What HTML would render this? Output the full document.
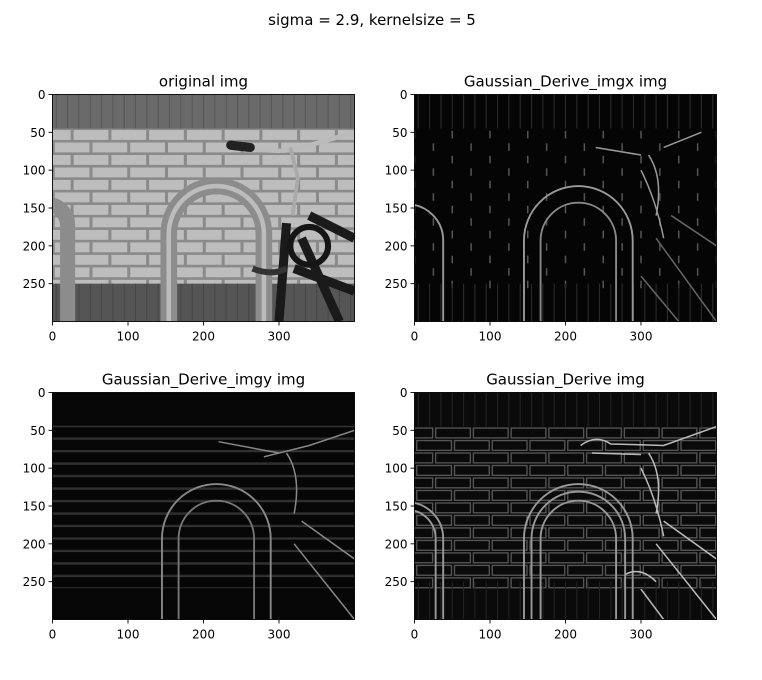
<!DOCTYPE html>
<html><head><meta charset="utf-8">
<style>
html,body{margin:0;padding:0;background:#fff;}
body{width:762px;height:675px;overflow:hidden;font-family:"Liberation Sans","DejaVu Sans",sans-serif;}
svg text{font-family:"DejaVu Sans","Liberation Sans",sans-serif;}
</style></head>
<body>
<svg id="fig" width="762" height="675" viewBox="0 0 762 675" xmlns="http://www.w3.org/2000/svg">
<text x="372" y="25" font-size="15" text-anchor="middle">sigma = 2.9, kernelsize = 5</text>
</svg>
<script>
const xTicks=[0,100,200,300];
const yTicks=[0,50,100,150,200,250];
const titles=["original img","Gaussian_Derive_imgx img","Gaussian_Derive_imgy img","Gaussian_Derive img"];
const panelNames=["original-img","derive-x-img","derive-y-img","derive-mag-img"];
const imgW=400, imgH=300;
const brickRows=[45,61.5,78,94.5,111,127.5,144,160.5,177,193.5,210,226.5,243];
const NS="http://www.w3.org/2000/svg";
const fig=document.getElementById('fig');
const axesBox=[[52.5,94.5],[414.5,94.5],[52.5,392.5],[414.5,392.5]];
const AW=302, AH=227;
function mk(tag,attrs,parent){const e=document.createElementNS(NS,tag);for(const k in attrs)e.setAttribute(k,attrs[k]);(parent||fig).appendChild(e);return e;}
function archPath(cx,top,r,bottom){return `M${cx-r},${bottom} L${cx-r},${top+r} A${r},${r} 0 0 1 ${cx+r},${top+r} L${cx+r},${bottom}`;}
function drawImage(g,kind){
  const bg={0:'#777',1:'#050505',2:'#060606',3:'#0a0a0a'}[kind];
  mk('rect',{x:0,y:0,width:imgW,height:imgH,fill:bg},g);
  if(kind===0){
    mk('rect',{x:0,y:0,width:imgW,height:45,fill:'#6a6a6a'},g);
    for(let x=5;x<400;x+=15)mk('line',{x1:x,y1:0,x2:x,y2:45,stroke:'#555','stroke-width':1.2},g);
    mk('rect',{x:0,y:45,width:imgW,height:205,fill:'#8a8a8a'},g);
    brickRows.forEach((r,i)=>{const off=i%2?0:-25;
      for(let x=off;x<400;x+=50)mk('rect',{x:x+3,y:r+2,width:46,height:13,fill:'#bdbdbd'},g);});
    mk('rect',{x:0,y:250,width:imgW,height:50,fill:'#555'},g);
    for(let x=5;x<400;x+=15)mk('line',{x1:x,y1:250,x2:x,y2:300,stroke:'#444','stroke-width':1.2},g);
    mk('path',{d:archPath(217,121,63,300),fill:'none',stroke:'#8c8c8c','stroke-width':22},g);
    mk('path',{d:archPath(217,121,63,300),fill:'none',stroke:'#bcbcbc','stroke-width':6},g);
    mk('path',{d:archPath(-8,145,28,300),fill:'none',stroke:'#8c8c8c','stroke-width':20},g);
    mk('path',{d:'M310,170 L300,300 M330,190 L380,300 M340,160 L400,190 M320,230 L400,260',stroke:'#1a1a1a','stroke-width':12,fill:'none'},g);
    mk('circle',{cx:340,cy:200,r:25,fill:'none',stroke:'#151515','stroke-width':8},g);
    mk('path',{d:'M245,67 Q300,80 330,70 L400,50',stroke:'#bbb','stroke-width':6,fill:'none'},g);
    mk('path',{d:'M236,67 L262,70',stroke:'#222','stroke-width':12,'stroke-linecap':'round',fill:'none'},g);
    mk('path',{d:'M315,70 L325,110 L318,160',stroke:'#aaa','stroke-width':5,fill:'none'},g);
    mk('path',{d:'M265,230 Q290,240 310,230',stroke:'#333','stroke-width':8,fill:'none'},g);
  } else if(kind===1){
    for(let x=5;x<400;x+=15)mk('line',{x1:x,y1:0,x2:x,y2:45,stroke:'#2a2a2a','stroke-width':1.5},g);
    brickRows.forEach((r,i)=>{const off=i%2?0:-25;
      for(let x=off;x<400;x+=50)mk('line',{x1:x+25,y1:r+3,x2:x+25,y2:r+13,stroke:'#555','stroke-width':2},g);});
    for(let x=5;x<400;x+=15)mk('line',{x1:x,y1:250,x2:x,y2:300,stroke:'#2a2a2a','stroke-width':1.5},g);
    mk('path',{d:archPath(217,121,72,300),fill:'none',stroke:'#999','stroke-width':2.5},g);
    mk('path',{d:archPath(217,143,50,300),fill:'none',stroke:'#888','stroke-width':2.5},g);
    mk('path',{d:archPath(-10,145,48,300),fill:'none',stroke:'#999','stroke-width':2.5},g);
    mk('path',{d:'M320,190 L400,300 M340,160 L400,200 M300,240 L350,300',stroke:'#666','stroke-width':2,fill:'none'},g);
    mk('path',{d:'M310,80 Q330,110 320,160 M300,100 Q320,140 330,190 M240,70 L300,80 M330,70 L380,50',stroke:'#999','stroke-width':2,fill:'none'},g);
  } else if(kind===2){
    brickRows.forEach(r=>{mk('line',{x1:0,y1:r,x2:400,y2:r,stroke:'#333','stroke-width':2},g);
      mk('line',{x1:0,y1:r+15,x2:400,y2:r+15,stroke:'#2a2a2a','stroke-width':1.5},g);});
    mk('path',{d:archPath(217,121,72,300),fill:'none',stroke:'#888','stroke-width':2.5},g);
    mk('path',{d:archPath(217,143,50,300),fill:'none',stroke:'#777','stroke-width':2.5},g);
    mk('path',{d:'M220,65 L300,80 M280,85 L340,70 L400,50 M310,80 Q330,110 320,160 M320,200 L400,300 M330,170 L400,220',stroke:'#888','stroke-width':2,fill:'none'},g);
  } else {
    for(let x=5;x<400;x+=15)mk('line',{x1:x,y1:0,x2:x,y2:45,stroke:'#222','stroke-width':1.5},g);
    brickRows.forEach((r,i)=>{const off=i%2?0:-25;
      for(let x=off;x<400;x+=50)mk('rect',{x:x+3,y:r+2,width:46,height:13,fill:'none',stroke:'#555','stroke-width':1.8},g);});
    for(let x=5;x<400;x+=15)mk('line',{x1:x,y1:250,x2:x,y2:300,stroke:'#222','stroke-width':1.5},g);
    [72,62,50].forEach(rr=>mk('path',{d:archPath(217,193-rr,rr,300),fill:'none',stroke:'#999','stroke-width':2.5},g));
    [48,38].forEach(rr=>mk('path',{d:archPath(-10,193-rr,rr,300),fill:'none',stroke:'#999','stroke-width':2.5},g));
    mk('path',{d:'M220,70 Q240,55 260,68 L330,70 L400,45 M235,80 L300,82 M310,80 Q330,110 320,160 M300,100 Q320,140 330,190 M320,200 L400,300 M330,170 L400,220 M280,240 Q300,230 320,250 M300,260 L330,300',stroke:'#bbb','stroke-width':2,fill:'none'},g);
  }
}
axesBox.forEach((b,k)=>{
  const [x0,y0]=b;
  const ax=mk('g',{});
  
  
  const sx=v=>x0+v*AW/imgW, sy=v=>y0+v*AH/imgH;
  const img=mk('g',{transform:`translate(${x0},${y0}) scale(${AW/imgW},${AH/imgH})`},ax);
  
  
  const cp=mk('clipPath',{id:'cp'+k},ax);mk('rect',{x:0,y:0,width:imgW,height:imgH},cp);
  img.setAttribute('clip-path','url(#cp'+k+')');
  drawImage(img,k);
  mk('rect',{x:x0,y:y0,width:AW,height:AH,fill:'none',stroke:'#000','stroke-width':0.9},ax);
  const t=mk('text',{x:x0+AW/2,y:y0-8,'font-size':15,'text-anchor':'middle'},ax);t.textContent=titles[k];
  
  
  xTicks.forEach(v=>{const x=sx(v);mk('line',{x1:x,y1:y0+AH,x2:x,y2:y0+AH+4,stroke:'#000','stroke-width':0.9},ax);
    const l=mk('text',{x:x,y:y0+AH+19,'font-size':12,'text-anchor':'middle'},ax);l.textContent=v;
    
    });
  yTicks.forEach(v=>{const y=sy(v);mk('line',{x1:x0-4,y1:y,x2:x0,y2:y,stroke:'#000','stroke-width':0.9},ax);
    const l=mk('text',{x:x0-7,y:y+4.5,'font-size':12,'text-anchor':'end'},ax);l.textContent=v;
    
    });
});
</script>
</body></html>
